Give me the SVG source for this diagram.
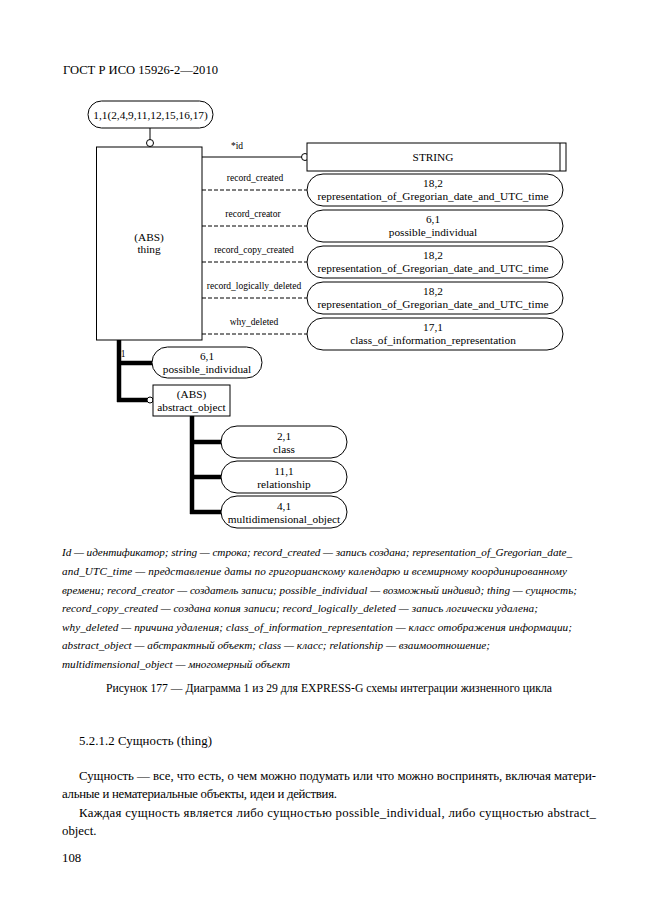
<svg xmlns="http://www.w3.org/2000/svg" width="661" height="913" viewBox="0 0 661 913">
<style>
.bg{fill:#fff}
.box{fill:#fff;stroke:#000;stroke-width:1}
.t{font-family:"Liberation Serif","Times New Roman",serif;font-size:11.3px;fill:#000;text-anchor:middle}
.lab{font-family:"Liberation Serif","Times New Roman",serif;font-size:9.5px;fill:#000;text-anchor:middle}
.dash{stroke:#000;stroke-width:1;stroke-dasharray:4,2;fill:none}
.ln{stroke:#000;stroke-width:1;fill:none}
.thick{stroke:#000;stroke-width:4.5;fill:none}
.cap{font-family:"Liberation Serif","Times New Roman",serif;font-size:11.2px;font-style:italic;fill:#000}
.fig{font-family:"Liberation Serif","Times New Roman",serif;font-size:11.7px;fill:#000}
.body{font-family:"Liberation Serif","Times New Roman",serif;font-size:12.8px;fill:#000}
</style>
<rect class="bg" x="0" y="0" width="661" height="913"/>
<text class="body" x="63" y="74" textLength="155" lengthAdjust="spacingAndGlyphs">ГОСТ Р ИСО 15926-2—2010</text>

<g id="connectors">
  <line class="ln" x1="150" y1="128" x2="150" y2="139.5"/>
  <circle class="box" cx="150" cy="143" r="3.5"/>
  <line class="ln" x1="202" y1="157" x2="302" y2="157"/>
  <circle class="box" cx="305" cy="157" r="3.5"/>
  <text class="lab" x="237" y="149">*id</text>
  <line class="dash" x1="202" y1="190" x2="307" y2="190"/>
  <text class="lab" x="255" y="181">record_created</text>
  <line class="dash" x1="202" y1="226" x2="307" y2="226"/>
  <text class="lab" x="253" y="217">record_creator</text>
  <line class="dash" x1="202" y1="262" x2="307" y2="262"/>
  <text class="lab" x="254" y="253">record_copy_created</text>
  <line class="dash" x1="202" y1="298" x2="307" y2="298"/>
  <text class="lab" x="254" y="289">record_logically_deleted</text>
  <line class="dash" x1="202" y1="334" x2="307" y2="334"/>
  <text class="lab" x="254" y="325">why_deleted</text>
  <line class="thick" x1="119" y1="340" x2="119" y2="402"/>
  <line class="thick" x1="117" y1="363" x2="152" y2="363"/>
  <line class="thick" x1="117" y1="400" x2="147" y2="400"/>
  <circle class="box" cx="150" cy="400" r="3"/>
  <text class="lab" x="123" y="357">1</text>
  <line class="thick" x1="192" y1="416" x2="192" y2="514"/>
  <line class="thick" x1="190" y1="442" x2="221" y2="442"/>
  <line class="thick" x1="190" y1="477" x2="221" y2="477"/>
  <line class="thick" x1="190" y1="512" x2="221" y2="512"/>
</g>

<g id="schema">
  <rect class="box" x="88" y="101" width="125" height="27" rx="13.5"/>
  <text class="t" x="150.5" y="118.5">1,1(2,4,9,11,12,15,16,17)</text>
</g>
<g id="thing">
  <rect class="box" x="96.5" y="147" width="105.5" height="193"/>
  <text class="t" x="149" y="241">(ABS)</text>
  <text class="t" x="149" y="253">thing</text>
</g>
<g id="string">
  <rect class="box" x="307" y="143" width="259" height="28"/>
  <line class="ln" x1="560" y1="143" x2="560" y2="171"/>
  <text class="t" x="433" y="160.5">STRING</text>
</g>
<g id="rec_created">
  <rect class="box" x="307" y="174" width="256" height="32" rx="16"/>
  <text class="t" x="433" y="187">18,2</text>
  <text class="t" x="433" y="200">representation_of_Gregorian_date_and_UTC_time</text>
</g>
<g id="rec_creator">
  <rect class="box" x="307" y="210" width="256" height="32" rx="16"/>
  <text class="t" x="433" y="223">6,1</text>
  <text class="t" x="433" y="236">possible_individual</text>
</g>
<g id="rec_copy">
  <rect class="box" x="307" y="246" width="256" height="32" rx="16"/>
  <text class="t" x="433" y="259">18,2</text>
  <text class="t" x="433" y="272">representation_of_Gregorian_date_and_UTC_time</text>
</g>
<g id="rec_deleted">
  <rect class="box" x="307" y="282" width="256" height="32" rx="16"/>
  <text class="t" x="433" y="295">18,2</text>
  <text class="t" x="433" y="308">representation_of_Gregorian_date_and_UTC_time</text>
</g>
<g id="why_deleted">
  <rect class="box" x="307" y="318" width="256" height="32" rx="16"/>
  <text class="t" x="433" y="331">17,1</text>
  <text class="t" x="433" y="344">class_of_information_representation</text>
</g>
<g id="possible_individual">
  <rect class="box" x="152" y="347" width="110" height="31" rx="15.5"/>
  <text class="t" x="207" y="359.5">6,1</text>
  <text class="t" x="207" y="372.5">possible_individual</text>
</g>
<g id="abstract_object">
  <rect class="box" x="153" y="385" width="77" height="31"/>
  <text class="t" x="191.5" y="398">(ABS)</text>
  <text class="t" x="191.5" y="411">abstract_object</text>
</g>
<g id="class">
  <rect class="box" x="221" y="426" width="126" height="32" rx="16"/>
  <text class="t" x="284" y="439.5">2,1</text>
  <text class="t" x="284" y="452.5">class</text>
</g>
<g id="relationship">
  <rect class="box" x="221" y="461" width="126" height="32" rx="16"/>
  <text class="t" x="284" y="474.5">11,1</text>
  <text class="t" x="284" y="487.5">relationship</text>
</g>
<g id="multidimensional_object">
  <rect class="box" x="221" y="496" width="126" height="32" rx="16"/>
  <text class="t" x="284" y="509.5">4,1</text>
  <text class="t" x="284" y="522.5">multidimensional_object</text>
</g>

<g id="legend">
  <text class="cap" x="62" y="556" textLength="510" lengthAdjust="spacing">Id — идентификатор; string — строка; record_created — запись создана; representation_of_Gregorian_date_</text>
  <text class="cap" x="62" y="575" textLength="505" lengthAdjust="spacing">and_UTC_time — представление даты по григорианскому календарю и всемирному координированному</text>
  <text class="cap" x="62" y="593.5" textLength="515" lengthAdjust="spacing">времени; record_creator — создатель записи; possible_individual — возможный индивид; thing — сущность;</text>
  <text class="cap" x="62" y="612" textLength="476" lengthAdjust="spacing">record_copy_created — создана копия записи; record_logically_deleted — запись логически удалена;</text>
  <text class="cap" x="62" y="630.5" textLength="510" lengthAdjust="spacing">why_deleted — причина удаления; class_of_information_representation — класс отображения информации;</text>
  <text class="cap" x="62" y="649" textLength="428" lengthAdjust="spacing">abstract_object — абстрактный объект; class — класс; relationship — взаимоотношение;</text>
  <text class="cap" x="62" y="667.5" textLength="228" lengthAdjust="spacing">multidimensional_object — многомерный объект</text>
</g>
<text class="fig" x="106" y="692" textLength="446" lengthAdjust="spacing">Рисунок 177 — Диаграмма 1 из 29 для EXPRESS-G схемы интеграции жизненного цикла</text>
<text class="body" x="79" y="745" textLength="133" lengthAdjust="spacing">5.2.1.2 Сущность (thing)</text>
<text class="body" x="79" y="780" textLength="517" lengthAdjust="spacing">Сущность — все, что есть, о чем можно подумать или что можно воспринять, включая матери-</text>
<text class="body" x="62" y="798" textLength="275" lengthAdjust="spacing">альные и нематериальные объекты, идеи и действия.</text>
<text class="body" x="79" y="817" textLength="517" lengthAdjust="spacing">Каждая сущность является либо сущностью possible_individual, либо сущностью abstract_</text>
<text class="body" x="62" y="835">object.</text>
<text class="body" x="62" y="862">108</text>
</svg>
